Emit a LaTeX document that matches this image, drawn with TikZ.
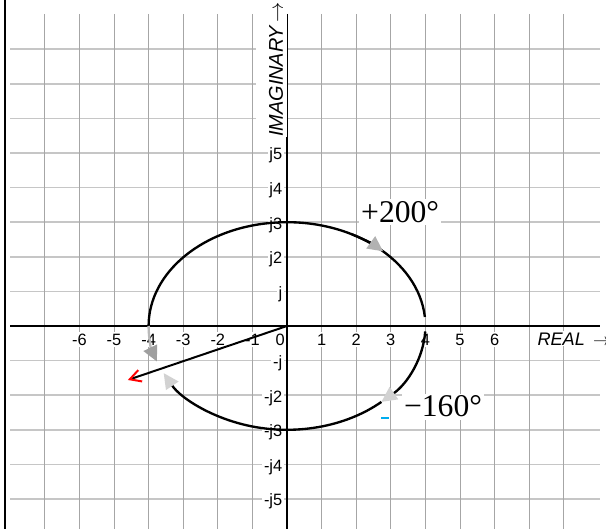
\documentclass[tikz,border=0pt]{standalone}
\usepackage{fontspec}
\setmainfont{Liberation Serif}
\setsansfont{Liberation Sans}
\usepackage{tikz}
\usetikzlibrary{arrows.meta}

\begin{document}
\begin{tikzpicture}[
    x=1.038cm, y=1.038cm,
    hgrid/.style={draw=gray!45, line width=1.3pt},
    vgrid/.style={draw=gray!70, line width=0.8pt},
    axis/.style={draw=black, line width=1.9pt},
    tick/.style={font=\sffamily\fontsize{14}{16}\selectfont, fill=white, inner sep=1.5pt},
    axlabel/.style={font=\sffamily\itshape\fontsize{15.5}{18}\selectfont, fill=white, inner sep=1pt},
    angle/.style={font=\rmfamily\fontsize{27}{30}\selectfont, fill=white, inner sep=2pt},
    curve/.style={line width=2pt},
    tiphead/.style={-{Triangle[length=4.6mm, width=4.4mm, color=#1]}},
    tiptail/.style={{Triangle[length=4.6mm, width=4.4mm, color=#1]}-}]
  \useasboundingbox (-8.295,-5.867) rectangle (9.22,9.422);
  % grid
  \foreach \y in {-5,...,-1,1,2,...,8}
    \draw[hgrid] (-8,\y) -- (9.05,\y);
  \foreach \x in {-7,...,-1,1,2,...,8}
    \draw[vgrid] (\x,9.02) -- (\x,-5.867);
  % frame line on the left
  \draw[line width=2.5pt] (-8.15,-5.867) -- (-8.15,9.422);
  % axes
  \draw[axis] (-8,0) -- (9.05,0);
  \draw[axis, line width=2.2pt] (0,9.02) -- (0,-5.867);
  % tick labels
  \foreach \x in {-6,...,-1,1,2,...,6}
    \node[tick, anchor=base] (x\x) at (\x,-0.55) {\x};
  \node[tick, anchor=base] (x0) at (-0.2,-0.55) {0};
  \foreach \y in {2,...,5} {
    \node[tick, anchor=base east] (yp\y) at (-0.08,\y-0.2) {j\y};
    \node[tick, anchor=base east] (yn\y) at (-0.08,-\y-0.2) {-j\y};
  }
  \node[tick, anchor=base east] (yp1) at (-0.08,0.8) {j};
  \node[tick, anchor=base east] (yn1) at (-0.08,-1.2) {-j};
  % axis names
  \node[axlabel, anchor=base west] (real) at (7.2,-0.55) {REAL\, $\rightarrow$};
  \node[axlabel, font=\sffamily\itshape\fontsize{17}{19}\selectfont, rotate=90, anchor=base west,
        inner sep=0pt, text height=0.8cm, text depth=0.12cm] (imag) at (-0.12,5.46) {IMAGINARY\,$\rightarrow$};
  % ellipse arcs
  \draw[curve] (5:4 and 3) arc[start angle=5, end angle=180, x radius=4, y radius=3];
  \draw[curve, draw=gray!55, tiphead=gray!75] (180:4 and 3) arc[start angle=180, end angle=200, x radius=4, y radius=3];
  \draw[curve, tiptail=gray!60] (46:4 and 3) arc[start angle=46, end angle=62, x radius=4, y radius=3];
  \draw[curve, tiphead=gray!35] (-3:4 and 3) arc[start angle=-3, end angle=-47, x radius=4, y radius=3];
  \draw[curve, tiphead=gray!35] (-47:4 and 3) arc[start angle=-47, end angle=-153, x radius=4, y radius=3];
  \draw[cyan, line width=1.7pt] (2.72,-2.66) -- (2.95,-2.66);
  % phasor
  \coordinate (O) at (0,0);
  \coordinate (P) at (-4.6,-1.56);
  \draw[line width=1.7pt, -{Straight Barb[length=3.3mm, width=3.6mm, color=red]}] (O) -- (P);
  % angle labels
  \node[angle, anchor=base] (pos) at (3.27,3.0) {+200°};
  \node[angle, anchor=base] (neg) at (4.51,-2.63) {−160°};
\end{tikzpicture}
\end{document}
